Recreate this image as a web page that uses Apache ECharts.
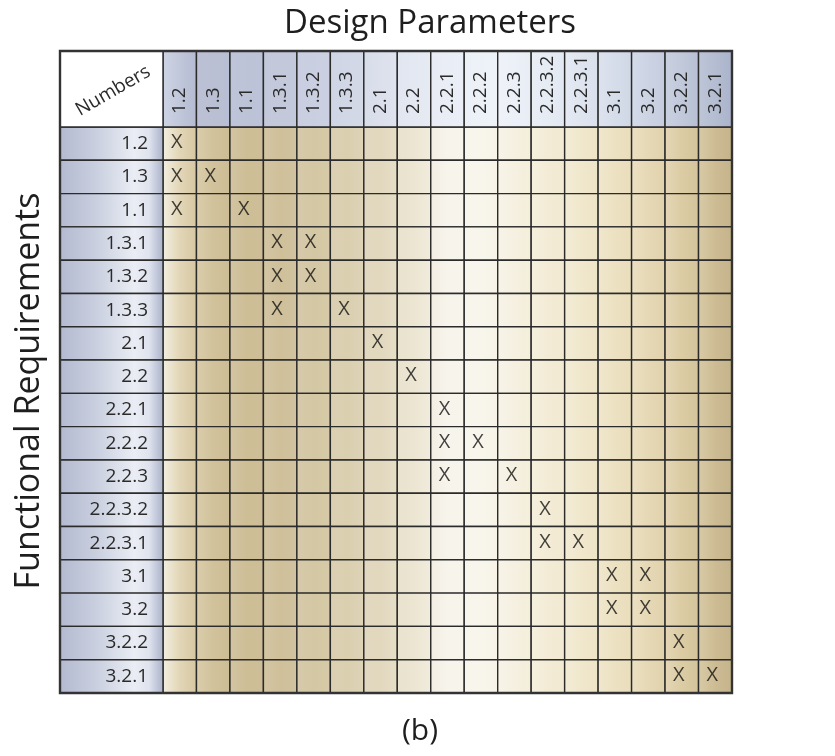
<!DOCTYPE html>
<html><head><meta charset="utf-8">
<script src="https://cdn.jsdelivr.net/npm/echarts@6/dist/echarts.min.js"></script>
<style>html,body{margin:0;padding:0;background:#fff}#c{width:835px;height:756px}</style>
</head><body><div id="c"></div><script>
// ---- data ----
const designParams = ['1.2','1.3','1.1','1.3.1','1.3.2','1.3.3','2.1','2.2','2.2.1','2.2.2','2.2.3','2.2.3.2','2.2.3.1','3.1','3.2','3.2.2','3.2.1'];
const functionalReqs = ['1.2','1.3','1.1','1.3.1','1.3.2','1.3.3','2.1','2.2','2.2.1','2.2.2','2.2.3','2.2.3.2','2.2.3.1','3.1','3.2','3.2.2','3.2.1'];
// [design parameter, functional requirement]
const marks = [
  ['1.2','1.2'],
  ['1.2','1.3'], ['1.3','1.3'],
  ['1.2','1.1'], ['1.1','1.1'],
  ['1.3.1','1.3.1'], ['1.3.2','1.3.1'],
  ['1.3.1','1.3.2'], ['1.3.2','1.3.2'],
  ['1.3.1','1.3.3'], ['1.3.3','1.3.3'],
  ['2.1','2.1'],
  ['2.2','2.2'],
  ['2.2.1','2.2.1'],
  ['2.2.1','2.2.2'], ['2.2.2','2.2.2'],
  ['2.2.1','2.2.3'], ['2.2.3','2.2.3'],
  ['2.2.3.2','2.2.3.2'],
  ['2.2.3.2','2.2.3.1'], ['2.2.3.1','2.2.3.1'],
  ['3.1','3.1'], ['3.2','3.1'],
  ['3.1','3.2'], ['3.2','3.2'],
  ['3.2.2','3.2.2'],
  ['3.2.2','3.2.1'], ['3.2.1','3.2.1']
];
const markText = 'X';
const topTitle = 'Design Parameters';
const sideTitle = 'Functional Requirements';
const cornerText = 'Numbers';
const caption = '(b)';

// ---- styles ----
const FONT = 'Open Sans';
const bodyStops = [[0,'#f3eddd'],[0.03,'#e2d6b6'],[0.06,'#d5c6a0'],[0.12,'#cdbd95'],[0.2,'#cebf99'],[0.3,'#d7cba9'],[0.4,'#e4dbc3'],[0.46,'#efe9d9'],[0.5,'#f7f4ec'],[0.56,'#f8f5ec'],[0.64,'#f4eedb'],[0.74,'#f0e7cb'],[0.84,'#e8dbb9'],[0.92,'#dacaa2'],[1,'#c5b48a']];
const headStops = [[0,'#c9d0e2'],[0.06,'#b4bad0'],[0.18,'#bcc2d7'],[0.3,'#cbd1e2'],[0.45,'#e4e9f2'],[0.58,'#eef2f8'],[0.72,'#e1e7f1'],[0.85,'#cbd3e3'],[1,'#aab3ca']];
const rowStops = [[0,'#b3bad0'],[0.35,'#c9cfdf'],[0.72,'#eaedf4'],[0.86,'#dfe3ee'],[1,'#a9b1c9']];
const LABEL_W = 103, HEAD_H = 76;

function hex(c){return [parseInt(c.slice(1,3),16),parseInt(c.slice(3,5),16),parseInt(c.slice(5,7),16)];}
function colorAt(stops,t){
  t=Math.max(0,Math.min(1,t));
  for(let i=1;i<stops.length;i++){
    if(t<=stops[i][0]){
      const a=stops[i-1],b=stops[i];const f=(t-a[0])/(b[0]-a[0]||1);
      const ca=hex(a[1]),cb=hex(b[1]);
      return 'rgb('+ca.map((v,k)=>Math.round(v+(cb[k]-v)*f)).join(',')+')';
    }
  }
  return stops[stops.length-1][1];
}
function lighten(col,amt){
  const m=col.match(/\d+/g).map(Number);
  return 'rgb('+m.map(v=>Math.round(v+(255-v)*amt)).join(',')+')';
}

const cells=[];
functionalReqs.forEach((fr,r)=>designParams.forEach((dp,c)=>cells.push([dp,fr])));

const chart=echarts.init(document.getElementById('c'),null,{renderer:'canvas'});
const LINE='#2b2b2b';
function renderCell(params,api){
  const cs=params.coordSys;
  const p=api.coord([api.value(0),api.value(1)]);
  const s=api.size([1,1]);
  const x0=p[0]-s[0]/2, y0=p[1]-s[1]/2;
  const fl=(x0-cs.x)/cs.width, fr=(x0+s[0]-cs.x)/cs.width;
  const children=[];
  const cl=colorAt(bodyStops,fl), cr=colorAt(bodyStops,fr), cm=colorAt(bodyStops,(fl+fr)/2);
  children.push({type:'rect',shape:{x:x0,y:y0,width:s[0],height:s[1]},
    style:{fill:new echarts.graphic.LinearGradient(0,0,1,0,[{offset:0,color:lighten(cl,0.12)},{offset:0.5,color:cm},{offset:1,color:cr}]),stroke:LINE,lineWidth:1.4}});
  const idx=params.dataIndex;
  const col=idx%designParams.length, row=Math.floor(idx/designParams.length);
  if(row===0){
    const hl=colorAt(headStops,fl), hr=colorAt(headStops,fr);
    children.push({type:'rect',shape:{x:x0,y:cs.y-HEAD_H,width:s[0],height:HEAD_H},
      style:{fill:new echarts.graphic.LinearGradient(0,0,1,0,[{offset:0,color:lighten(hl,0.1)},{offset:1,color:hr}]),stroke:LINE,lineWidth:1.4}});
  }
  if(col===0){
    const stops=rowStops.map(st=>({offset:st[0],color:st[1]}));
    children.push({type:'rect',shape:{x:cs.x-LABEL_W,y:y0,width:LABEL_W,height:s[1]},
      style:{fill:new echarts.graphic.LinearGradient(0,0,1,0,stops),stroke:LINE,lineWidth:1.4}});
  }
  if(row===0&&col===0){
    children.push({type:'rect',shape:{x:cs.x-LABEL_W,y:cs.y-HEAD_H,width:LABEL_W,height:HEAD_H},
      style:{fill:'#ffffff',stroke:LINE,lineWidth:1.4}});
  }
  if(idx===cells.length-1){
    children.push({type:'rect',shape:{x:cs.x-LABEL_W,y:cs.y-HEAD_H,width:cs.width+LABEL_W,height:cs.height+HEAD_H},
      style:{fill:null,stroke:'#333',lineWidth:2.4}});
  }
  return {type:'group',children};
}

chart.setOption({
  animation:false,
  backgroundColor:'#ffffff',
  grid:{left:163,top:127,width:569,height:566,containLabel:false},
  xAxis:{type:'category',data:designParams,position:'top',z:10,
    axisLine:{show:false},axisTick:{show:false},splitLine:{show:false},
    axisLabel:{rotate:-90,margin:13,fontSize:19,fontFamily:FONT,color:'#2a2a2a',interval:0}},
  yAxis:{type:'category',data:functionalReqs,inverse:true,z:10,
    axisLine:{show:false},axisTick:{show:false},splitLine:{show:false},
    axisLabel:{margin:15,fontSize:19,fontFamily:FONT,color:'#2a2a2a',interval:0}},
  graphic:[
    {type:'text',x:430,y:24,z:20,style:{text:topTitle,font:'33px "'+FONT+'"',fill:'#1e1e1e',textAlign:'center',textVerticalAlign:'middle'}},
    {type:'text',x:29,y:391,rotation:Math.PI/2,z:20,style:{text:sideTitle,font:'34px "'+FONT+'"',fill:'#1e1e1e',textAlign:'center',textVerticalAlign:'middle'}},
    {type:'text',x:420,y:731,z:20,style:{text:caption,font:'30px "'+FONT+'"',fill:'#1e1e1e',textAlign:'center',textVerticalAlign:'middle'}},
    {type:'text',x:113,y:91,rotation:Math.PI/6,z:20,style:{text:cornerText,font:'19px "'+FONT+'"',fill:'#2a2a2a',textAlign:'center',textVerticalAlign:'middle'}}
  ],
  series:[
    {type:'custom',name:'cells',data:cells,renderItem:renderCell,clip:false,z:1,silent:true},
    {type:'scatter',name:'marks',data:marks,symbolSize:1,itemStyle:{color:'rgba(0,0,0,0)'},z:5,
      label:{show:true,position:'inside',formatter:markText,fontSize:20,fontFamily:FONT,color:'#111111',offset:[-3,-1]}}
  ]
});
</script></body></html>
